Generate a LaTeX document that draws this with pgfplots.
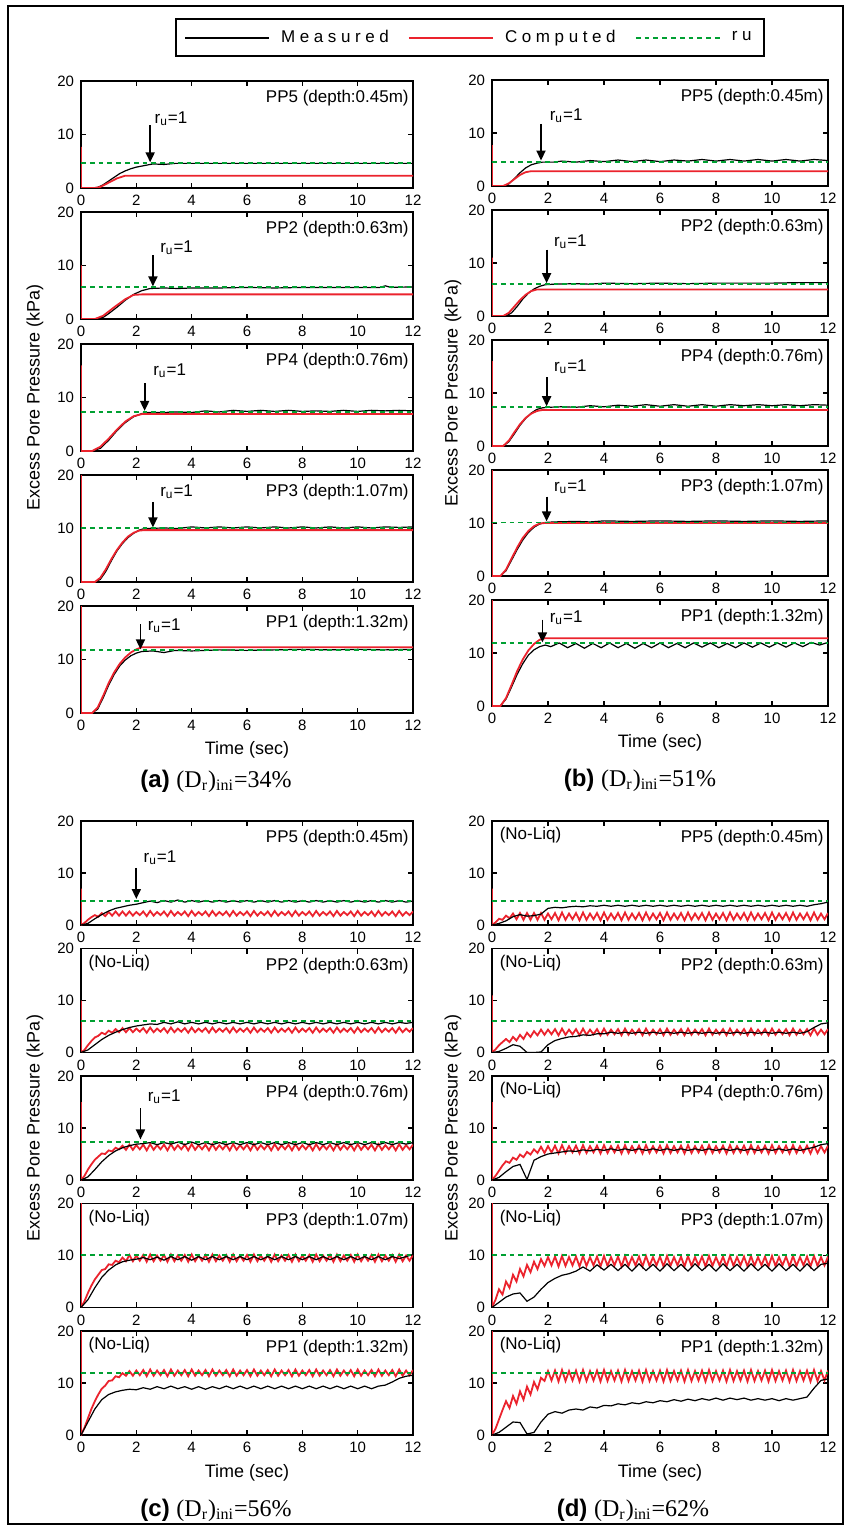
\documentclass[border=0pt]{standalone}
\usepackage{fontspec}
\setmainfont{Liberation Sans}
\newfontfamily\capserif{Liberation Serif}
\newfontfamily\legfont[LetterSpace=27]{Liberation Sans}
\usepackage{pgfplots}
\usepackage{pgfplotstable}
\pgfplotsset{compat=1.18}
\usetikzlibrary{arrows.meta}

\definecolor{mred}{RGB}{235,35,45}
\definecolor{mgreen}{RGB}{0,160,50}

\newcommand\ticksize{\fontsize{7.5}{8}\selectfont}
\newcommand\annfont{\fontsize{8.5}{9}\selectfont}
\newcommand\ylabsize{\fontsize{9}{10}\selectfont}
\newcommand\xlabsize{\fontsize{9}{10}\selectfont}
\newcommand\capsize{\fontsize{12}{14}\selectfont}
\newcommand\legsize{\legfont\fontsize{8.5}{9}\selectfont}

\pgfplotstableread{
t c5 c2 c4 c3 c1 d5 d2 d4 d3 d1
0 7 10 15 22 22 7 11 15 22 22
0 0 0 0 0 0 0 0 0 0 0
0.125 0.4 0.5 0.8 1.2 1.4 0.5 0.6 0.8 1.5 1.2
0.25 1.0 1.4 2.0 2.8 3.2 1.2 1.4 1.8 3.5 3.0
0.375 1.5 2.2 3.0 4.2 5.0 1.0 2.0 2.8 2.5 4.8
0.5 1.9 2.9 3.9 5.4 6.5 1.8 2.6 3.6 5.0 6.5
0.625 1.6 3.2 4.5 6.3 7.8 1.3 2.0 3.3 3.8 5.2
0.75 2.3 3.8 5.1 7.2 8.9 2.2 3.0 4.3 6.3 7.5
0.875 1.7 3.5 5.0 7.4 9.5 1.1 2.3 3.9 5.0 6.0
1 2.5 4.2 5.7 8.3 10.4 2.3 3.4 4.9 7.4 8.4
1.125 1.8 3.8 5.5 8.2 10.5 1.0 2.6 4.4 6.0 6.8
1.25 2.6 4.5 6.2 9.0 11.3 2.3 3.8 5.4 8.2 9.3
1.375 1.8 3.9 5.9 8.7 11.1 1.0 3.0 4.9 6.8 7.8
1.5 2.6 4.7 6.6 9.6 11.9 2.3 4.1 5.9 8.8 10.2
1.625 1.8 3.9 5.8 8.9 11.4 1.0 3.3 5.2 7.4 8.8
1.75 2.6 4.7 6.8 10.1 12.3 2.3 4.4 6.4 9.3 11.0
1.875 1.8 3.9 5.8 8.9 11.4 1.0 3.4 5.2 8.0 10.4
2 2.5 4.6 6.7 10.0 12.4 2.2 4.4 6.5 9.7 12.3
2.125 1.9 4.0 5.9 9.0 11.5 1.1 3.5 5.3 8.1 10.5
2.25 2.6 4.7 6.8 10.1 12.5 2.3 4.5 6.6 9.8 12.4
2.375 1.7 3.8 5.7 8.8 11.3 0.9 3.3 5.1 7.9 10.3
2.5 2.7 4.8 6.9 10.2 12.6 2.4 4.6 6.7 9.9 12.5
2.625 1.8 3.9 5.8 8.9 11.4 1.0 3.4 5.2 8.0 10.4
2.75 2.5 4.6 6.7 10.0 12.4 2.2 4.4 6.5 9.7 12.3
2.875 1.9 4.0 5.9 9.0 11.5 1.1 3.5 5.3 8.1 10.5
3 2.6 4.7 6.8 10.1 12.5 2.3 4.5 6.6 9.8 12.4
3.125 1.7 3.8 5.7 8.8 11.3 0.9 3.3 5.1 7.9 10.3
3.25 2.7 4.8 6.9 10.2 12.6 2.4 4.6 6.7 9.9 12.5
3.375 1.8 3.9 5.8 8.9 11.4 1.0 3.4 5.2 8.0 10.4
3.5 2.5 4.6 6.7 10.0 12.4 2.2 4.4 6.5 9.7 12.3
3.625 1.9 4.0 5.9 9.0 11.5 1.1 3.5 5.3 8.1 10.5
3.75 2.6 4.7 6.8 10.1 12.5 2.3 4.5 6.6 9.8 12.4
3.875 1.7 3.8 5.7 8.8 11.3 0.9 3.3 5.1 7.9 10.3
4 2.7 4.8 6.9 10.2 12.6 2.4 4.6 6.7 9.9 12.5
4.125 1.8 3.9 5.8 8.9 11.4 1.0 3.4 5.2 8.0 10.4
4.25 2.5 4.6 6.7 10.0 12.4 2.2 4.4 6.5 9.7 12.3
4.375 1.9 4.0 5.9 9.0 11.5 1.1 3.5 5.3 8.1 10.5
4.5 2.6 4.7 6.8 10.1 12.5 2.3 4.5 6.6 9.8 12.4
4.625 1.7 3.8 5.7 8.8 11.3 0.9 3.3 5.1 7.9 10.3
4.75 2.7 4.8 6.9 10.2 12.6 2.4 4.6 6.7 9.9 12.5
4.875 1.8 3.9 5.8 8.9 11.4 1.0 3.4 5.2 8.0 10.4
5 2.5 4.6 6.7 10.0 12.4 2.2 4.4 6.5 9.7 12.3
5.125 1.9 4.0 5.9 9.0 11.5 1.1 3.5 5.3 8.1 10.5
5.25 2.6 4.7 6.8 10.1 12.5 2.3 4.5 6.6 9.8 12.4
5.375 1.7 3.8 5.7 8.8 11.3 0.9 3.3 5.1 7.9 10.3
5.5 2.7 4.8 6.9 10.2 12.6 2.4 4.6 6.7 9.9 12.5
5.625 1.8 3.9 5.8 8.9 11.4 1.0 3.4 5.2 8.0 10.4
5.75 2.5 4.6 6.7 10.0 12.4 2.2 4.4 6.5 9.7 12.3
5.875 1.9 4.0 5.9 9.0 11.5 1.1 3.5 5.3 8.1 10.5
6 2.6 4.7 6.8 10.1 12.5 2.3 4.5 6.6 9.8 12.4
6.125 1.7 3.8 5.7 8.8 11.3 0.9 3.3 5.1 7.9 10.3
6.25 2.7 4.8 6.9 10.2 12.6 2.4 4.6 6.7 9.9 12.5
6.375 1.8 3.9 5.8 8.9 11.4 1.0 3.4 5.2 8.0 10.4
6.5 2.5 4.6 6.7 10.0 12.4 2.2 4.4 6.5 9.7 12.3
6.625 1.9 4.0 5.9 9.0 11.5 1.1 3.5 5.3 8.1 10.5
6.75 2.6 4.7 6.8 10.1 12.5 2.3 4.5 6.6 9.8 12.4
6.875 1.7 3.8 5.7 8.8 11.3 0.9 3.3 5.1 7.9 10.3
7 2.7 4.8 6.9 10.2 12.6 2.4 4.6 6.7 9.9 12.5
7.125 1.8 3.9 5.8 8.9 11.4 1.0 3.4 5.2 8.0 10.4
7.25 2.5 4.6 6.7 10.0 12.4 2.2 4.4 6.5 9.7 12.3
7.375 1.9 4.0 5.9 9.0 11.5 1.1 3.5 5.3 8.1 10.5
7.5 2.6 4.7 6.8 10.1 12.5 2.3 4.5 6.6 9.8 12.4
7.625 1.7 3.8 5.7 8.8 11.3 0.9 3.3 5.1 7.9 10.3
7.75 2.7 4.8 6.9 10.2 12.6 2.4 4.6 6.7 9.9 12.5
7.875 1.8 3.9 5.8 8.9 11.4 1.0 3.4 5.2 8.0 10.4
8 2.5 4.6 6.7 10.0 12.4 2.2 4.4 6.5 9.7 12.3
8.125 1.9 4.0 5.9 9.0 11.5 1.1 3.5 5.3 8.1 10.5
8.25 2.6 4.7 6.8 10.1 12.5 2.3 4.5 6.6 9.8 12.4
8.375 1.7 3.8 5.7 8.8 11.3 0.9 3.3 5.1 7.9 10.3
8.5 2.7 4.8 6.9 10.2 12.6 2.4 4.6 6.7 9.9 12.5
8.625 1.8 3.9 5.8 8.9 11.4 1.0 3.4 5.2 8.0 10.4
8.75 2.5 4.6 6.7 10.0 12.4 2.2 4.4 6.5 9.7 12.3
8.875 1.9 4.0 5.9 9.0 11.5 1.1 3.5 5.3 8.1 10.5
9 2.6 4.7 6.8 10.1 12.5 2.3 4.5 6.6 9.8 12.4
9.125 1.7 3.8 5.7 8.8 11.3 0.9 3.3 5.1 7.9 10.3
9.25 2.7 4.8 6.9 10.2 12.6 2.4 4.6 6.7 9.9 12.5
9.375 1.8 3.9 5.8 8.9 11.4 1.0 3.4 5.2 8.0 10.4
9.5 2.5 4.6 6.7 10.0 12.4 2.2 4.4 6.5 9.7 12.3
9.625 1.9 4.0 5.9 9.0 11.5 1.1 3.5 5.3 8.1 10.5
9.75 2.6 4.7 6.8 10.1 12.5 2.3 4.5 6.6 9.8 12.4
9.875 1.7 3.8 5.7 8.8 11.3 0.9 3.3 5.1 7.9 10.3
10 2.7 4.8 6.9 10.2 12.6 2.4 4.6 6.7 9.9 12.5
10.125 1.8 3.9 5.8 8.9 11.4 1.0 3.4 5.2 8.0 10.4
10.25 2.5 4.6 6.7 10.0 12.4 2.2 4.4 6.5 9.7 12.3
10.375 1.9 4.0 5.9 9.0 11.5 1.1 3.5 5.3 8.1 10.5
10.5 2.6 4.7 6.8 10.1 12.5 2.3 4.5 6.6 9.8 12.4
10.625 1.7 3.8 5.7 8.8 11.3 0.9 3.3 5.1 7.9 10.3
10.75 2.7 4.8 6.9 10.2 12.6 2.4 4.6 6.7 9.9 12.5
10.875 1.8 3.9 5.8 8.9 11.4 1.0 3.4 5.2 8.0 10.4
11 2.5 4.6 6.7 10.0 12.4 2.2 4.4 6.5 9.7 12.3
11.125 1.9 4.0 5.9 9.0 11.5 1.1 3.5 5.3 8.1 10.5
11.25 2.6 4.7 6.8 10.1 12.5 2.3 4.5 6.6 9.8 12.4
11.375 1.7 3.8 5.7 8.8 11.3 0.9 3.3 5.1 7.9 10.3
11.5 2.7 4.8 6.9 10.2 12.6 2.4 4.6 6.7 9.9 12.5
11.625 1.8 3.9 5.8 8.9 11.4 1.0 3.4 5.2 8.0 10.4
11.75 2.5 4.6 6.7 10.0 12.4 2.2 4.4 6.5 9.7 12.3
11.875 1.9 4.0 5.9 9.0 11.5 1.1 3.5 5.3 8.1 10.5
12 2.6 4.7 6.8 10.1 12.5 2.3 4.5 6.6 9.8 12.4
}\comp

\pgfplotstableread{
t m5 m2 m4 m3 m1 n5 n2 n4 n3 n1
0 0 0 0 0 0 0 0 0 0 0
0.25 0.3 0.5 0.6 1.5 2.5 0.3 0.2 0.5 1.0 0.5
0.5 1.2 1.5 2.0 3.8 5.0 0.8 0.8 1.6 2.0 1.5
0.75 2.0 2.5 3.5 5.8 6.8 1.6 1.5 2.6 2.6 2.5
1 2.7 3.3 4.7 7.2 7.8 2.0 1.2 3.0 2.8 2.4
1.25 3.2 3.9 5.6 8.2 8.3 1.7 0.0 0.1 1.2 0.2
1.5 3.5 4.4 6.2 8.8 8.6 1.8 0.0 3.8 2.0 0.5
1.75 3.8 4.8 6.6 9.1 8.8 2.1 0.1 4.5 3.5 2.5
2 4.0 5.1 6.9 9.3 8.7 3.2 1.5 5.0 4.8 4.0
2.25 4.3 5.3 7.0 9.6 9.1 3.4 2.3 5.2 5.6 4.5
2.5 4.6 5.5 7.2 9.2 8.8 3.3 2.7 5.4 6.2 4.2
2.75 4.3 5.4 6.8 9.7 9.3 3.5 3.0 5.6 6.5 4.8
3 4.7 5.8 7.2 9.1 8.9 3.6 3.1 5.5 7.0 5.0
3.25 4.4 5.5 6.9 9.8 9.4 3.5 3.4 5.8 7.8 4.8
3.5 4.8 5.9 7.3 9.2 8.9 3.7 3.3 5.6 7.0 5.4
3.75 4.4 5.5 6.8 9.8 9.3 3.6 3.6 5.9 8.2 5.2
4 4.7 5.8 7.3 9.1 8.8 3.8 3.6 5.7 7.2 5.7
4.25 4.4 5.5 6.8 9.8 9.3 3.6 3.9 6.0 8.3 5.6
4.5 4.7 5.8 7.2 9.2 8.8 3.8 3.7 5.7 7.1 6.0
4.75 4.4 5.5 6.8 9.8 9.3 3.6 3.9 6.0 8.3 5.8
5 4.7 5.8 7.2 9.2 8.9 3.8 3.7 5.7 7.0 6.2
5.25 4.4 5.5 6.8 9.8 9.4 3.6 3.9 6.0 8.4 6.0
5.5 4.7 5.8 7.2 9.2 8.9 3.8 3.7 5.7 7.1 6.4
5.75 4.4 5.5 6.8 9.8 9.4 3.6 3.9 6.0 8.3 6.2
6 4.7 5.8 7.2 9.2 8.9 3.8 3.7 5.7 7.0 6.6
6.25 4.4 5.5 6.8 9.8 9.4 3.6 3.9 6.0 8.4 6.4
6.5 4.7 5.8 7.2 9.2 8.9 3.8 3.7 5.7 7.1 6.8
6.75 4.4 5.5 6.8 9.8 9.4 3.6 3.9 6.0 8.3 6.5
7 4.7 5.8 7.2 9.2 8.9 3.8 3.7 5.7 7.0 6.9
7.25 4.4 5.5 6.8 9.8 9.4 3.6 3.9 6.0 8.4 6.6
7.5 4.7 5.8 7.2 9.2 8.9 3.8 3.7 5.7 7.1 7.0
7.75 4.4 5.5 6.8 9.8 9.4 3.6 3.9 6.0 8.3 6.7
8 4.7 5.8 7.2 9.2 8.9 3.8 3.7 5.7 7.0 7.1
8.25 4.4 5.5 6.8 9.8 9.4 3.6 3.9 6.0 8.4 6.7
8.5 4.7 5.8 7.2 9.2 8.9 3.8 3.7 5.7 7.1 7.1
8.75 4.4 5.5 6.8 9.8 9.4 3.6 3.9 6.0 8.3 6.8
9 4.7 5.8 7.2 9.2 8.9 3.8 3.7 5.7 7.0 7.1
9.25 4.4 5.5 6.8 9.8 9.4 3.6 3.9 6.0 8.4 6.7
9.5 4.7 5.8 7.2 9.2 8.9 3.8 3.7 5.7 7.1 7.0
9.75 4.4 5.5 6.8 9.8 9.4 3.6 3.9 6.0 8.3 6.7
10 4.7 5.8 7.2 9.2 8.9 3.8 3.7 5.7 7.0 7.0
10.25 4.4 5.5 6.8 9.8 9.4 3.6 3.9 6.0 8.4 6.6
10.5 4.7 5.8 7.2 9.2 8.9 3.8 3.7 5.7 7.1 7.0
10.75 4.4 5.5 6.8 9.8 9.4 3.6 3.9 6.0 8.3 6.7
11 4.7 5.8 7.2 9.2 9.6 3.8 3.7 5.7 7.0 7.0
11.25 4.4 5.5 6.8 9.8 10.2 3.6 4.0 6.0 8.4 7.3
11.5 4.7 5.8 7.2 9.4 10.9 3.9 4.8 6.3 7.1 9.0
11.75 4.4 5.6 6.9 9.8 11.3 4.1 5.5 6.8 8.3 10.5
12 4.6 5.8 7.2 10.2 11.5 4.4 5.7 7.0 8.5 10.8
}\meas

\pgfplotsset{
  panel/.style={scale only axis, xmin=0, xmax=12, ymin=0, ymax=20,
    xtick={0,2,4,6,8,10,12}, ytick={0,10,20},
    tick align=inside, xtick pos=both, ytick pos=both,
    axis line style={line width=0.9pt},
    major tick length=2.6pt,
    every tick/.style={black, line width=0.6pt},
    tick label style={font=\ticksize},
    /pgf/number format/assume math mode=true,
    every axis x label/.style={at={(axis description cs:0.5,-0.346)}, anchor=center, font=\xlabsize},
  },
  colA/.style={panel, width=166pt, height=53.5pt,
    every axis y label/.style={at={(axis description cs:-0.139,0.5)}, rotate=90, anchor=center, font=\ylabsize}},
  colB/.style={panel, width=168pt, height=53pt,
    every axis y label/.style={at={(axis description cs:-0.116,0.5)}, rotate=90, anchor=center, font=\ylabsize}},
  colC/.style={panel, width=166pt, height=52pt,
    every axis y label/.style={at={(axis description cs:-0.139,0.5)}, rotate=90, anchor=center, font=\ylabsize},
    every axis x label/.style={at={(axis description cs:0.5,-0.365)}, anchor=center, font=\xlabsize}},
  colD/.style={panel, width=168pt, height=52pt,
    every axis y label/.style={at={(axis description cs:-0.116,0.5)}, rotate=90, anchor=center, font=\ylabsize},
    every axis x label/.style={at={(axis description cs:0.5,-0.365)}, anchor=center, font=\xlabsize}},
  meas/.style={draw=black, line width=0.6pt},
  comp/.style={draw=mred, line width=0.9pt},
  ru/.style={draw=mgreen, line width=0.9pt, dash pattern=on 2.4pt off 2pt},
}

\newcommand\pplabel[1]{\node[anchor=north east, inner sep=0pt, font=\annfont] at (rel axis cs:0.988,0.915) {#1};}
\newcommand\noliq{\node[anchor=north west, inner sep=0pt, font=\annfont] at (rel axis cs:0.022,0.94) {(No-Liq)};}
\newcommand\ruarrow[5]{%
  \draw[-{Triangle[length=5pt,width=4.5pt]}, line width=0.9pt] (axis cs:#1,#2) -- (axis cs:#1,#3);
  \node[anchor=west, font=\annfont, inner sep=0pt] at (axis cs:#4,#5) {r\textsubscript{u}=1};}

\begin{document}
\begin{tikzpicture}
\path (0,0) rectangle (423.5pt,-764.5pt);
\draw[line width=1.2pt] (4pt,-3pt) rectangle (421.5pt,-762pt);

% ================= (a) =================
\begin{axis}[colA, at={(40.5pt,-40.5pt)}, anchor=north west,
  legend columns=3,
  legend image code/.code={\draw[#1, line width=1.1pt] (0pt,0pt) -- (42pt,0pt);},
  legend style={at={(axis description cs:0.283,1.589)}, anchor=north west,
    draw=black, line width=1pt, inner xsep=4pt, inner ysep=3.5pt, font=\legsize,
    /tikz/every odd column/.append style={column sep=3.5pt},
    /tikz/every even column/.append style={column sep=7.5pt}}]
\addplot[meas] coordinates {(0,0)(0.3,0)(0.6,0.1)(0.8,0.6)(1.0,1.3)(1.2,2.0)(1.4,2.7)(1.6,3.2)(1.8,3.6)(2.0,3.9)(2.2,4.1)(2.4,4.3)(2.6,4.5)(3.0,4.4)(3.4,4.6)(4,4.6)(5,4.6)(6,4.6)(7,4.6)(8,4.6)(9,4.6)(10,4.6)(11,4.6)(12,4.6)};
\addlegendentry{Measured}
\addplot[comp] coordinates {(0,7.7)(0,0)(0.5,0)(0.7,0.2)(1.0,1.0)(1.3,1.8)(1.6,2.3)(2,2.3)(12,2.3)};
\addlegendentry{Computed}
\addplot[ru] coordinates {(0,4.6)(12,4.6)};
\addlegendentry{ru}
\pplabel{PP5 (depth:0.45m)}
\ruarrow{2.5}{11.7}{4.8}{2.65}{13.0}
\end{axis}

\begin{axis}[colA, at={(40.5pt,-106pt)}, anchor=north west]
\addplot[meas] coordinates {(0,0)(0.5,0)(0.8,0.3)(1.0,1.0)(1.3,2.2)(1.6,3.5)(1.9,4.6)(2.2,5.3)(2.5,5.7)(3,5.8)(3.5,5.7)(4,5.8)(5,5.8)(6,5.9)(7,5.8)(8,5.9)(9,5.9)(10,5.9)(10.8,5.9)(11,6.2)(11.2,5.9)(12,6.0)};
\addplot[comp] coordinates {(0,10)(0,0)(0.5,0)(0.8,0.6)(1.2,2.2)(1.6,3.7)(1.9,4.5)(2.2,4.6)(12,4.6)};
\addplot[ru] coordinates {(0,6.0)(12,6.0)};
\pplabel{PP2 (depth:0.63m)}
\ruarrow{2.6}{11.9}{6.1}{2.85}{13.3}
\end{axis}

\begin{axis}[colA, at={(40.5pt,-172pt)}, anchor=north west, ylabel={Excess Pore Pressure (kPa)}]
\addplot[meas] coordinates {(0,0)(0.4,0)(0.7,0.5)(1.0,2.0)(1.3,3.8)(1.6,5.3)(1.9,6.4)(2.2,7.0)(2.4,7.2)(3,7.2)(3.5,7.3)(4,7.2)(4.5,7.5)(5,7.3)(5.5,7.6)(6,7.4)(6.5,7.6)(7,7.4)(7.5,7.6)(8,7.4)(8.5,7.5)(9,7.4)(9.5,7.6)(10,7.4)(10.5,7.6)(11,7.5)(11.5,7.6)(12,7.5)};
\addplot[comp] coordinates {(0,16)(0,0)(0.4,0)(0.7,0.8)(1.0,2.3)(1.3,4.0)(1.6,5.5)(1.9,6.5)(2.2,6.9)(12,6.9)};
\addplot[ru] coordinates {(0,7.3)(12,7.3)};
\pplabel{PP4 (depth:0.76m)}
\ruarrow{2.3}{12.7}{7.5}{2.6}{15.0}
\end{axis}

\begin{axis}[colA, at={(40.5pt,-237.5pt)}, anchor=north west]
\addplot[meas] coordinates {(0,0)(0.5,0)(0.7,0.5)(0.9,2.0)(1.1,4.0)(1.3,5.8)(1.5,7.2)(1.7,8.3)(1.9,9.1)(2.1,9.7)(2.3,10.0)(3,10.1)(3.5,10.0)(4,10.3)(4.5,10.1)(5,10.3)(5.5,10.1)(6,10.3)(6.5,10.1)(7,10.3)(7.5,10.1)(8,10.3)(8.5,10.1)(9,10.3)(9.5,10.1)(10,10.3)(10.5,10.1)(11,10.3)(11.5,10.2)(12,10.3)};
\addplot[comp] coordinates {(0,22)(0,0)(0.5,0)(0.7,0.8)(0.9,2.4)(1.1,4.3)(1.3,6.0)(1.5,7.4)(1.7,8.5)(1.9,9.2)(2.1,9.6)(2.3,9.7)(12,9.7)};
\addplot[ru] coordinates {(0,10.1)(12,10.1)};
\pplabel{PP3 (depth:1.07m)}
\ruarrow{2.6}{15.0}{10.2}{2.85}{16.8}
\end{axis}

\begin{axis}[colA, at={(40.5pt,-303pt)}, anchor=north west, xlabel={Time (sec)}]
\addplot[meas] coordinates {(0,0)(0.4,0)(0.6,0.7)(0.8,2.8)(1.0,5.2)(1.2,7.2)(1.4,8.8)(1.6,9.9)(1.8,10.7)(2.0,11.2)(2.2,11.5)(2.6,11.6)(3,11.3)(3.4,11.7)(4,11.6)(5,11.8)(6,11.7)(7,11.8)(8,11.9)(9,11.8)(10,11.9)(11,11.8)(12,11.9)};
\addplot[comp] coordinates {(0,22)(0,0)(0.4,0)(0.6,1.0)(0.8,3.2)(1.0,5.6)(1.2,7.6)(1.4,9.2)(1.6,10.4)(1.8,11.3)(2.0,11.9)(2.2,12.3)(12,12.3)};
\addplot[ru] coordinates {(0,11.85)(12,11.85)};
\pplabel{PP1 (depth:1.32m)}
\ruarrow{2.15}{16.6}{11.9}{2.4}{16.4}
\end{axis}

% ================= (b) =================
\begin{axis}[colB, at={(246pt,-40pt)}, anchor=north west]
\addplot[meas] coordinates {(0,0)(0.4,0)(0.6,0.4)(0.8,1.4)(1.0,2.5)(1.2,3.4)(1.4,4.0)(1.6,4.3)(1.8,4.5)(2.2,4.5)(2.5,4.7)(3,4.5)(3.5,4.8)(4,4.6)(4.5,4.9)(5,4.6)(5.5,4.9)(6,4.6)(6.5,4.9)(7,4.7)(7.5,5.0)(8,4.7)(8.5,5.0)(9,4.7)(9.5,5.0)(10,4.7)(10.5,5.0)(11,4.7)(11.5,5.0)(12,4.8)};
\addplot[comp] coordinates {(0,7.7)(0,0)(0.4,0)(0.6,0.5)(0.8,1.3)(1.0,2.1)(1.2,2.6)(1.4,2.8)(12,2.8)};
\addplot[ru] coordinates {(0,4.6)(12,4.6)};
\pplabel{PP5 (depth:0.45m)}
\ruarrow{1.75}{11.7}{4.8}{2.05}{13.2}
\end{axis}

\begin{axis}[colB, at={(246pt,-105pt)}, anchor=north west]
\addplot[meas] coordinates {(0,0)(0.5,0)(0.7,0.6)(0.9,1.8)(1.1,3.2)(1.3,4.3)(1.5,5.1)(1.7,5.6)(1.9,5.9)(2.2,6.0)(3,6.1)(3.5,6.0)(4,6.2)(5,6.1)(6,6.2)(7,6.1)(8,6.2)(9,6.2)(10,6.2)(11,6.3)(12,6.3)};
\addplot[comp] coordinates {(0,11)(0,0)(0.4,0)(0.6,0.6)(0.8,1.8)(1.0,3.0)(1.2,4.0)(1.4,4.7)(1.6,5.0)(12,5.0)};
\addplot[ru] coordinates {(0,6.0)(12,6.0)};
\pplabel{PP2 (depth:0.63m)}
\ruarrow{1.95}{12.5}{6.2}{2.2}{14.0}
\end{axis}

\begin{axis}[colB, at={(246pt,-170pt)}, anchor=north west, ylabel={Excess Pore Pressure (kPa)}]
\addplot[meas] coordinates {(0,0)(0.4,0)(0.6,0.8)(0.8,2.3)(1.0,3.9)(1.2,5.2)(1.4,6.2)(1.6,6.9)(1.8,7.2)(2.0,7.3)(2.5,7.4)(3,7.3)(3.5,7.6)(4,7.4)(4.5,7.7)(5,7.5)(5.5,7.8)(6,7.5)(6.5,7.8)(7,7.5)(7.5,7.8)(8,7.5)(8.5,7.8)(9,7.6)(9.5,7.8)(10,7.6)(10.5,7.8)(11,7.6)(11.5,7.8)(12,7.7)};
\addplot[comp] coordinates {(0,16)(0,0)(0.4,0)(0.6,1.0)(0.8,2.6)(1.0,4.1)(1.2,5.3)(1.4,6.1)(1.6,6.6)(1.8,6.8)(12,6.8)};
\addplot[ru] coordinates {(0,7.3)(12,7.3)};
\pplabel{PP4 (depth:0.76m)}
\ruarrow{1.95}{13.0}{7.5}{2.2}{15.0}
\end{axis}

\begin{axis}[colB, at={(246pt,-235pt)}, anchor=north west]
\addplot[meas] coordinates {(0,0)(0.3,0)(0.5,1.0)(0.7,3.0)(0.9,5.0)(1.1,6.8)(1.3,8.2)(1.5,9.2)(1.7,9.8)(1.9,10.1)(2.2,10.2)(3,10.3)(3.5,10.2)(4,10.4)(5,10.3)(6,10.4)(7,10.3)(8,10.4)(9,10.3)(10,10.4)(11,10.3)(12,10.4)};
\addplot[comp] coordinates {(0,22)(0,0)(0.3,0)(0.5,1.2)(0.7,3.3)(0.9,5.4)(1.1,7.2)(1.3,8.5)(1.5,9.4)(1.7,9.9)(1.9,10.0)(12,10.0)};
\addplot[ru] coordinates {(0,10.1)(12,10.1)};
\pplabel{PP3 (depth:1.07m)}
\ruarrow{1.95}{15.0}{10.3}{2.2}{16.8}
\end{axis}

\begin{axis}[colB, at={(246pt,-300pt)}, anchor=north west, xlabel={Time (sec)}]
\addplot[meas] coordinates {(0,0)(0.3,0)(0.5,1.3)(0.7,3.6)(0.9,6.0)(1.1,8.0)(1.3,9.6)(1.5,10.6)(1.7,11.2)(1.9,11.5)(2.1,11.2)(2.4,11.9)(2.7,11.0)(3.0,11.8)(3.3,10.9)(3.6,11.8)(3.9,11.0)(4.2,11.9)(4.5,11.0)(4.8,11.8)(5.1,10.9)(5.4,11.8)(5.7,11.0)(6.0,11.9)(6.3,11.0)(6.6,11.8)(6.9,11.0)(7.2,11.9)(7.5,11.1)(7.8,11.9)(8.1,11.0)(8.4,11.8)(8.7,11.0)(9.0,11.9)(9.3,11.1)(9.6,11.9)(9.9,11.1)(10.2,11.9)(10.5,11.1)(10.8,11.9)(11.1,11.2)(11.4,12.0)(11.7,11.5)(12,12.0)};
\addplot[comp] coordinates {(0,22)(0,0)(0.3,0)(0.5,1.5)(0.7,4.0)(0.9,6.6)(1.1,8.8)(1.3,10.5)(1.5,11.7)(1.7,12.5)(1.9,12.8)(12,12.8)};
\addplot[ru] coordinates {(0,11.85)(12,11.85)};
\pplabel{PP1 (depth:1.32m)}
\ruarrow{1.8}{16.3}{12.0}{2.05}{16.6}
\end{axis}

% ================= (c) =================
\begin{axis}[colC, at={(40.5pt,-410.5pt)}, anchor=north west]
\addplot[comp] table[x=t,y=c5] {\comp};
\addplot[meas] table[x=t,y=m5] {\meas};
\addplot[ru] coordinates {(0,4.6)(12,4.6)};
\pplabel{PP5 (depth:0.45m)}
\ruarrow{2.0}{11.0}{5.0}{2.25}{13.0}
\end{axis}

\begin{axis}[colC, at={(40.5pt,-474.25pt)}, anchor=north west]
\addplot[comp] table[x=t,y=c2] {\comp};
\addplot[meas] table[x=t,y=m2] {\meas};
\addplot[ru] coordinates {(0,6.0)(12,6.0)};
\pplabel{PP2 (depth:0.63m)}
\noliq
\end{axis}

\begin{axis}[colC, at={(40.5pt,-538pt)}, anchor=north west, ylabel={Excess Pore Pressure (kPa)}]
\addplot[comp] table[x=t,y=c4] {\comp};
\addplot[meas] table[x=t,y=m4] {\meas};
\addplot[ru] coordinates {(0,7.3)(12,7.3)};
\pplabel{PP4 (depth:0.76m)}
\ruarrow{2.15}{13.8}{7.8}{2.4}{16.0}
\end{axis}

\begin{axis}[colC, at={(40.5pt,-601.75pt)}, anchor=north west]
\addplot[comp] table[x=t,y=c3] {\comp};
\addplot[meas] table[x=t,y=m3] {\meas};
\addplot[ru] coordinates {(0,10.1)(12,10.1)};
\pplabel{PP3 (depth:1.07m)}
\noliq
\end{axis}

\begin{axis}[colC, at={(40.5pt,-665.5pt)}, anchor=north west, xlabel={Time (sec)}]
\addplot[comp] table[x=t,y=c1] {\comp};
\addplot[meas] table[x=t,y=m1] {\meas};
\addplot[ru] coordinates {(0,11.85)(12,11.85)};
\pplabel{PP1 (depth:1.32m)}
\noliq
\end{axis}

% ================= (d) =================
\begin{axis}[colD, at={(246pt,-410.5pt)}, anchor=north west]
\addplot[comp] table[x=t,y=d5] {\comp};
\addplot[meas] table[x=t,y=n5] {\meas};
\addplot[ru] coordinates {(0,4.6)(12,4.6)};
\pplabel{PP5 (depth:0.45m)}
\noliq
\end{axis}

\begin{axis}[colD, at={(246pt,-474.25pt)}, anchor=north west]
\addplot[comp] table[x=t,y=d2] {\comp};
\addplot[meas] table[x=t,y=n2] {\meas};
\addplot[ru] coordinates {(0,6.0)(12,6.0)};
\pplabel{PP2 (depth:0.63m)}
\noliq
\end{axis}

\begin{axis}[colD, at={(246pt,-538pt)}, anchor=north west, ylabel={Excess Pore Pressure (kPa)}]
\addplot[comp] table[x=t,y=d4] {\comp};
\addplot[meas] table[x=t,y=n4] {\meas};
\addplot[ru] coordinates {(0,7.3)(12,7.3)};
\pplabel{PP4 (depth:0.76m)}
\noliq
\end{axis}

\begin{axis}[colD, at={(246pt,-601.75pt)}, anchor=north west]
\addplot[comp] table[x=t,y=d3] {\comp};
\addplot[meas] table[x=t,y=n3] {\meas};
\addplot[ru] coordinates {(0,10.1)(12,10.1)};
\pplabel{PP3 (depth:1.07m)}
\noliq
\end{axis}

\begin{axis}[colD, at={(246pt,-665.5pt)}, anchor=north west, xlabel={Time (sec)}]
\addplot[comp] table[x=t,y=d1] {\comp};
\addplot[meas] table[x=t,y=n1] {\meas};
\addplot[ru] coordinates {(0,11.85)(12,11.85)};
\pplabel{PP1 (depth:1.32m)}
\noliq
\end{axis}

% captions
\node[font=\capsize] at (108pt,-390.5pt) {\textbf{(a)} {\capserif (D\textsubscript{r})\textsubscript{ini}=34\%}};
\node[font=\capsize] at (320pt,-390pt) {\textbf{(b)} {\capserif (D\textsubscript{r})\textsubscript{ini}=51\%}};
\node[font=\capsize] at (108pt,-755pt) {\textbf{(c)} {\capserif (D\textsubscript{r})\textsubscript{ini}=56\%}};
\node[font=\capsize] at (316.5pt,-755pt) {\textbf{(d)} {\capserif (D\textsubscript{r})\textsubscript{ini}=62\%}};
\end{tikzpicture}
\end{document}
